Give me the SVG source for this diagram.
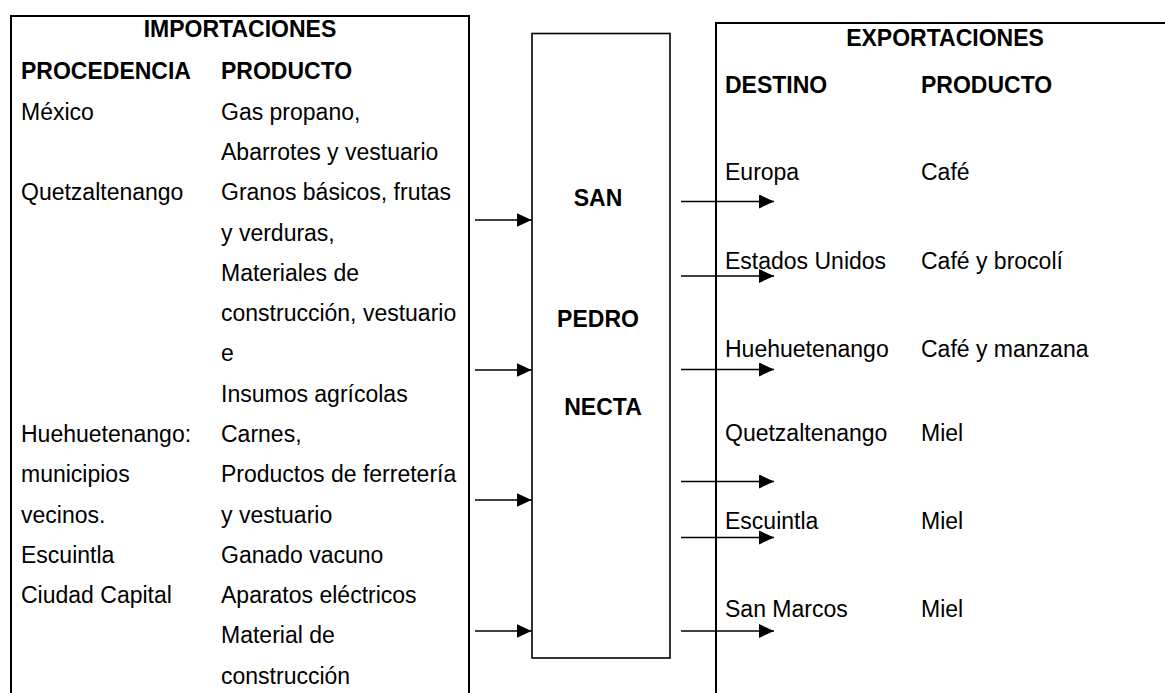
<svg xmlns="http://www.w3.org/2000/svg" width="1165" height="693" viewBox="0 0 1165 693">
<style>
text{font-family:"Liberation Sans",Arial,sans-serif;font-size:23px;fill:#000}
.b{font-weight:bold}
.m{text-anchor:middle}
.box{fill:#fff;stroke:#000;stroke-width:2}
.c{stroke:#000;stroke-width:1.6;fill:none}
</style>
<defs>
<marker id="ah" markerUnits="userSpaceOnUse" markerWidth="16" markerHeight="15" refX="15" refY="7" orient="auto">
<path d="M0,0 L15,7 L0,14 z" fill="#000"/>
</marker>
</defs>
<rect width="1165" height="693" fill="#fff"/>
<g id="imports">
<path class="box" d="M11,700 L11,16 L469,16 L469,700"/>
<text class="b m" x="240" y="37">IMPORTACIONES</text>
<text class="b" x="21" y="79">PROCEDENCIA</text>
<text class="b" x="221" y="79">PRODUCTO</text>
<text x="21" y="119.5">México</text>
<text x="221" y="119.5">Gas propano,</text>
<text x="221" y="160">Abarrotes y vestuario</text>
<text x="21" y="200">Quetzaltenango</text>
<text x="221" y="200">Granos básicos, frutas</text>
<text x="221" y="240.5">y verduras,</text>
<text x="221" y="280.5">Materiales de</text>
<text x="221" y="321">construcción, vestuario</text>
<text x="221" y="361">e</text>
<text x="221" y="401.5">Insumos agrícolas</text>
<text x="21" y="442">Huehuetenango:</text>
<text x="221" y="442">Carnes,</text>
<text x="21" y="482">municipios</text>
<text x="221" y="482">Productos de ferretería</text>
<text x="21" y="522.5">vecinos.</text>
<text x="221" y="522.5">y vestuario</text>
<text x="21" y="562.5">Escuintla</text>
<text x="221" y="562.5">Ganado vacuno</text>
<text x="21" y="603">Ciudad Capital</text>
<text x="221" y="603">Aparatos eléctricos</text>
<text x="221" y="643">Material de</text>
<text x="221" y="683.5">construcción</text>
</g>
<g id="center">
<rect class="box" x="532" y="33.5" width="138" height="624.5" style="stroke-width:1.6"/>
<text class="b m" x="598" y="206">SAN</text>
<text class="b m" x="598" y="327">PEDRO</text>
<text class="b m" x="603" y="415">NECTA</text>
</g>
<g id="exports">
<path class="box" d="M716,700 L716,23 L1175,23"/>
<text class="b m" x="945" y="46">EXPORTACIONES</text>
<text class="b" x="725" y="93">DESTINO</text>
<text class="b" x="921" y="93">PRODUCTO</text>
<text x="725" y="180">Europa</text>
<text x="921" y="180">Café</text>
<text x="725" y="269">Estados Unidos</text>
<text x="921" y="269">Café y brocolí</text>
<text x="725" y="357">Huehuetenango</text>
<text x="921" y="357">Café y manzana</text>
<text x="725" y="441">Quetzaltenango</text>
<text x="921" y="441">Miel</text>
<text x="725" y="529">Escuintla</text>
<text x="921" y="529">Miel</text>
<text x="725" y="617">San Marcos</text>
<text x="921" y="617">Miel</text>
</g>
<g id="connectors">
<line class="c" x1="475" y1="220" x2="531.5" y2="220" marker-end="url(#ah)"/>
<line class="c" x1="475" y1="370" x2="531.5" y2="370" marker-end="url(#ah)"/>
<line class="c" x1="475" y1="500" x2="531.5" y2="500" marker-end="url(#ah)"/>
<line class="c" x1="475" y1="631" x2="531.5" y2="631" marker-end="url(#ah)"/>
<line class="c" x1="681" y1="201.5" x2="774" y2="201.5" marker-end="url(#ah)"/>
<line class="c" x1="681" y1="276" x2="774" y2="276" marker-end="url(#ah)"/>
<line class="c" x1="681" y1="369.5" x2="774" y2="369.5" marker-end="url(#ah)"/>
<line class="c" x1="681" y1="481.5" x2="774" y2="481.5" marker-end="url(#ah)"/>
<line class="c" x1="681" y1="537.5" x2="774" y2="537.5" marker-end="url(#ah)"/>
<line class="c" x1="681" y1="631" x2="774" y2="631" marker-end="url(#ah)"/>
</g>
</svg>
